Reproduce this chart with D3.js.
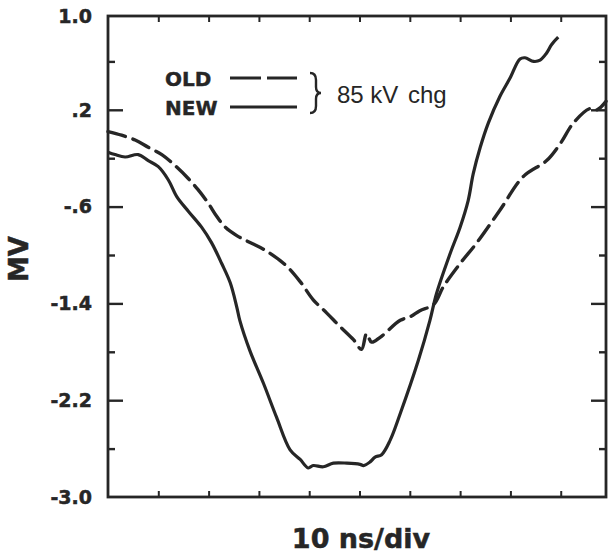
<!DOCTYPE html>
<html><head><meta charset="utf-8">
<script src="https://cdn.jsdelivr.net/npm/d3@7"></script>
<style>html,body{margin:0;padding:0;background:#fff;}</style>
</head><body>
<svg id="c" width="610" height="555"></svg>
<script>
// ---- data (x in divisions of 10 ns, y in MV) ----
const newX = [0.0,0.14,0.34,0.60,0.80,1.00,1.20,1.37,1.60,1.86,2.06,2.26,2.43,2.56,2.62,2.82,3.09,3.35,3.62,3.82,3.98,4.08,4.28,4.48,4.75,5.01,5.08,5.21,5.31,5.44,5.61,5.81,6.17,6.40,6.53,6.80,7.00,7.16,7.26,7.40,7.56,7.79,7.99,8.19,8.29,8.46,8.59,8.72,8.82,8.95];
const newV = [-0.15,-0.17,-0.19,-0.17,-0.22,-0.27,-0.38,-0.52,-0.64,-0.77,-0.90,-1.07,-1.23,-1.43,-1.54,-1.79,-2.06,-2.34,-2.61,-2.69,-2.76,-2.74,-2.75,-2.72,-2.72,-2.73,-2.74,-2.71,-2.67,-2.65,-2.53,-2.31,-1.87,-1.54,-1.32,-0.99,-0.77,-0.55,-0.33,-0.11,0.09,0.31,0.46,0.62,0.63,0.60,0.61,0.67,0.74,0.80];
const oldX = [0.0,0.27,0.54,0.80,1.07,1.33,1.60,1.79,1.99,2.16,2.33,2.56,2.79,3.12,3.52,3.82,4.08,4.35,4.61,4.88,5.04,5.14,5.24,5.41,5.81,6.01,6.20,6.47,6.67,7.00,7.33,7.79,8.26,8.72,8.99,9.25,9.58,9.72,9.90];
const oldV = [0.02,-0.01,-0.05,-0.11,-0.17,-0.26,-0.37,-0.46,-0.57,-0.68,-0.77,-0.84,-0.89,-0.96,-1.08,-1.22,-1.37,-1.48,-1.59,-1.70,-1.78,-1.65,-1.72,-1.68,-1.54,-1.51,-1.46,-1.41,-1.26,-1.07,-0.90,-0.63,-0.35,-0.22,-0.08,0.09,0.21,0.20,0.27];
const yMajor = [1.0,0.2,-0.6,-1.4,-2.2,-3.0];
const yLabels = ["1.0",".2","-.6","-1.4","-2.2","-3.0"];
const yMinor = [0.6,-0.2,-1.0,-1.8,-2.6];
const xTicks = [1,2,3,4,5,6,7,8,9];
const legendNames = ["OLD","NEW"];
const legendNote = ["85 kV","chg"];
const xTitle = "10 ns/div";
const yTitle = "MV";

(function(){
const svg = d3.select("#c");
const ink = "#262626";
const L = 108, R = 606, T = 13, B = 497;
const x = d3.scaleLinear().domain([0, 9.9]).range([L, R]);
const y = d3.scaleLinear().domain([-3, 1]).range([B, T]);

// frame
svg.append("rect").attr("x", L).attr("y", T+3).attr("width", R-L).attr("height", B-T-3)
  .attr("fill","none").attr("stroke", ink).attr("stroke-width", 2.8);

function styleAxis(g, w){ g.select(".domain").remove(); g.selectAll("line").attr("stroke", ink).attr("stroke-width", w); }

const inner = yMajor.filter(v=>v>-3 && v<1);
styleAxis(svg.append("g").attr("transform", `translate(${L},0)`)
  .call(d3.axisLeft(y).tickValues(inner).tickSize(-15).tickFormat("")), 2.4);
styleAxis(svg.append("g").attr("transform", `translate(${L},0)`)
  .call(d3.axisLeft(y).tickValues(yMinor).tickSize(-7).tickFormat("")), 2.4);
styleAxis(svg.append("g").attr("transform", `translate(${R},0)`)
  .call(d3.axisRight(y).tickValues(inner).tickSize(-15).tickFormat("")), 2.4);
styleAxis(svg.append("g").attr("transform", `translate(${R},0)`)
  .call(d3.axisRight(y).tickValues(yMinor).tickSize(-7).tickFormat("")), 2.4);
styleAxis(svg.append("g").attr("transform", `translate(0,${B})`)
  .call(d3.axisBottom(x).tickValues(xTicks).tickSize(-6).tickFormat("")), 2);
styleAxis(svg.append("g").attr("transform", `translate(0,${T+3})`)
  .call(d3.axisTop(x).tickValues(xTicks).tickSize(-6).tickFormat("")), 2);

// y labels
svg.append("g").selectAll("text").data(yMajor).join("text")
  .attr("x", 92).attr("y", (d,i)=> y(d) + (i===0 ? 3 : 0)).attr("dy","0.36em")
  .attr("text-anchor","end")
  .attr("font-family","DejaVu Sans").attr("font-weight","bold").attr("font-size",19)
  .attr("fill", ink).attr("stroke", ink).attr("stroke-width", 0.5)
  .text((d,i)=>yLabels[i]);

// titles
svg.append("text").attr("x", 361).attr("y", 548).attr("text-anchor","middle")
  .attr("font-family","DejaVu Sans").attr("font-weight","bold").attr("font-size",27)
  .attr("fill", ink).attr("stroke", ink).attr("stroke-width", 0.5).text(xTitle);
svg.append("text").attr("transform","translate(28,259) rotate(-90)").attr("text-anchor","middle")
  .attr("font-family","DejaVu Sans").attr("font-weight","bold").attr("font-size",26)
  .attr("fill", ink).attr("stroke", ink).attr("stroke-width", 0.5).text(yTitle);

// curves
const line = d3.line().x(d=>x(d[0])).y(d=>y(d[1])).curve(d3.curveCatmullRom.alpha(0.5));
svg.append("path").datum(oldX.map((v,i)=>[v, oldV[i]]))
  .attr("d", line).attr("fill","none").attr("stroke", ink).attr("stroke-width", 3.4)
  .attr("stroke-dasharray","18,8").attr("stroke-linecap","round");
svg.append("path").datum(newX.map((v,i)=>[v, newV[i]]))
  .attr("d", line).attr("fill","none").attr("stroke", ink).attr("stroke-width", 3.2)
  .attr("stroke-linejoin","round");

// legend
const lg = svg.append("g");
lg.selectAll("text.nm").data(legendNames).join("text").attr("class","nm")
  .attr("x", 165).attr("y", (d,i)=> 86 + i*29)
  .attr("font-family","DejaVu Sans").attr("font-weight","bold").attr("font-size",20)
  .attr("fill", ink).attr("stroke", ink).attr("stroke-width", 0.4).text(d=>d);
lg.append("line").attr("x1",230).attr("x2",297).attr("y1",78).attr("y2",78)
  .attr("stroke", ink).attr("stroke-width",3.2).attr("stroke-dasharray","31,6");
lg.append("line").attr("x1",230).attr("x2",297).attr("y1",107).attr("y2",107)
  .attr("stroke", ink).attr("stroke-width",3.2);
lg.append("path")
  .attr("d","M310,73 Q316,73 316,80 L316,87 Q316,93 321,93 Q316,93 316,99 L316,106 Q316,113 310,113")
  .attr("fill","none").attr("stroke", ink).attr("stroke-width",2.4);
lg.append("text").attr("x",337).attr("y",103)
  .attr("font-family","Liberation Sans").attr("font-size",24).attr("fill", ink).text(legendNote[0]);
lg.append("text").attr("x",408).attr("y",103)
  .attr("font-family","Liberation Sans").attr("font-size",24).attr("fill", ink).text(legendNote[1]);
})();
</script>
</body></html>
